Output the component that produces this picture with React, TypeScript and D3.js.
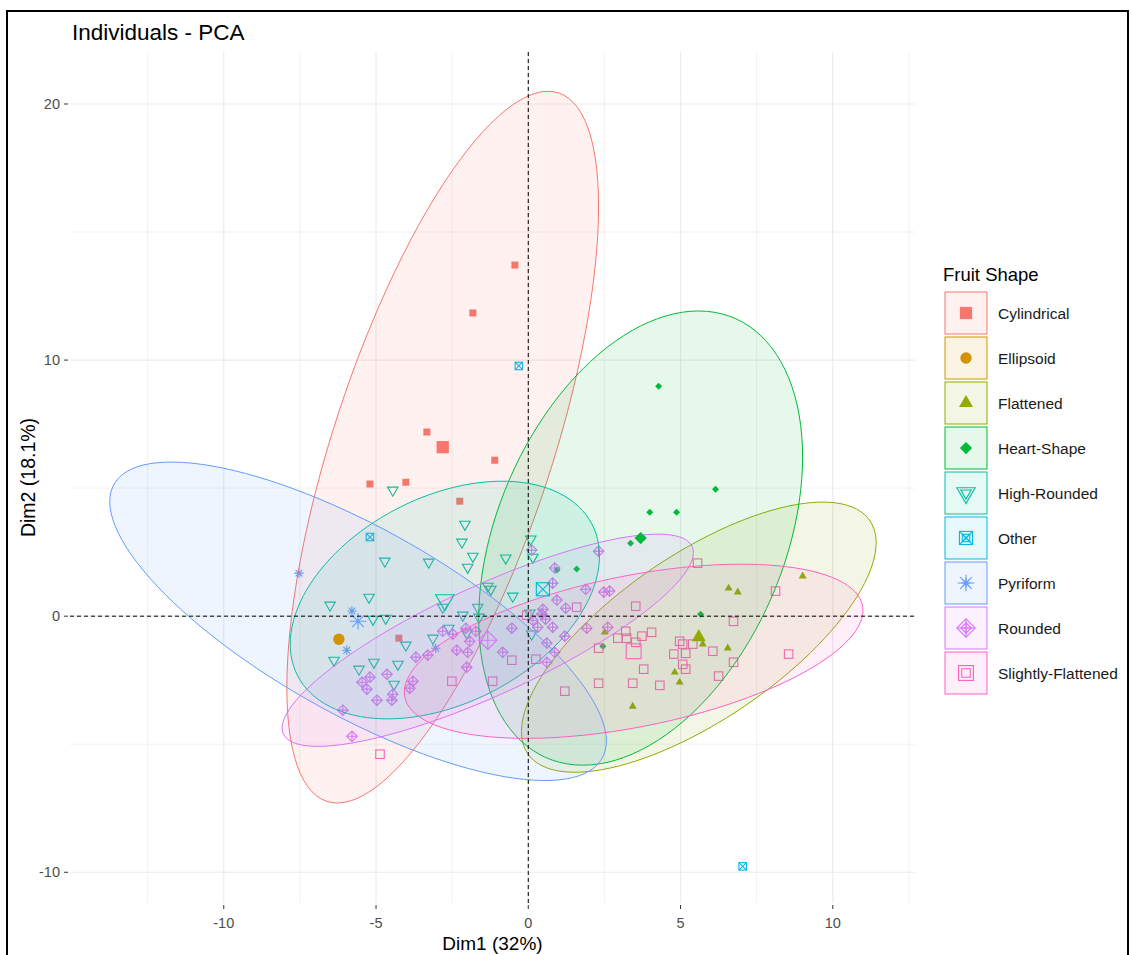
import React from 'react';
import * as d3 from 'd3';

type Pt = [number, number];

const groups = ['Cylindrical', 'Ellipsoid', 'Flattened', 'Heart-Shape', 'High-Rounded', 'Other', 'Pyriform', 'Rounded', 'Slightly-Flattened'];
const colours = ['#F8766D', '#D39200', '#93AA00', '#00BA38', '#00C19F', '#00B9E3', '#619CFF', '#DB72FB', '#FF61C3'];
const shapes = ['square', 'circle', 'triangle', 'diamond', 'triangleDown', 'squareCross', 'asterisk', 'diamondPlus', 'squareOpen'];

// individuals (Dim1, Dim2)
const cylindrical: Pt[] = [
  [-0.44, 13.71], [-1.82, 11.84], [-3.33, 7.19], [-1.1, 6.09], [-5.2, 5.16], [-4.02, 5.23], [-2.25, 4.49], [-4.25, -0.86],
];
const ellipsoid: Pt[] = [[-6.22, -0.9]];
const flattened: Pt[] = [
  [9.01, 1.56], [6.58, 1.09], [6.88, 0.94], [2.51, -0.63], [5.73, -1.09], [6.55, -1.25], [4.81, -2.19], [4.97, -2.58], [3.43, -3.52],
];
const heartShape: Pt[] = [
  [4.28, 8.98], [6.15, 4.96], [3.99, 4.06], [4.87, 4.06], [3.36, 2.85], [0.94, 1.8], [1.59, 1.84], [5.66, 0.08], [2.45, -1.17],
];
const highRounded: Pt[] = [
  [-4.45, 4.92], [-2.08, 3.59], [-2.18, 2.89], [-1.82, 2.34], [-1.99, 1.91], [-3.27, 2.11], [-4.71, 2.15], [-0.74, 2.27],
  [0.08, 3.01], [0.15, 2.3], [-1.33, 1.17], [-0.51, 0.78], [-5.23, 0.74], [-6.51, 0.43], [-2.81, 0.35], [-1.66, 0.35],
  [-5.1, -0.12], [-4.68, -0.08], [-2.15, 0.04], [-1.62, -0.04], [0.05, 0.12], [0.11, -0.7], [-2.61, -0.47], [-3.13, -0.86],
  [-4.02, -1.13], [-6.38, -1.72], [-5.56, -2.07], [-5.07, -1.8], [-4.28, -1.88], [-4.41, -2.66], [-1.23, 1.05], [-2.02, -0.66],
];
const other: Pt[] = [[-0.31, 9.77], [-5.2, 3.09], [7.04, -9.77]];
const pyriform: Pt[] = [[-7.53, 1.68], [-5.79, 0.2], [-5.96, -1.33], [-3.04, -1.25]];
const rounded: Pt[] = [
  [0.11, 2.58], [0.87, 1.88], [2.31, 2.54], [0.8, 1.29], [1.89, 1.05], [2.48, 0.94], [2.67, 0.98], [0.94, 0.63],
  [1.23, 0.31], [0.48, 0.27], [0.44, 0.08], [0.15, -0.16], [0.31, -0.43], [0.8, -0.43], [1.2, -0.78], [1.92, -0.47],
  [2.61, -0.43], [-0.54, -0.47], [-0.84, -1.41], [0.61, -1.05], [0.87, -1.41], [0.61, -1.8], [-1.72, -0.59], [-2.05, -0.47],
  [-2.48, -0.7], [-2.81, -0.59], [-1.92, -0.98], [-1.99, -1.41], [-2.35, -1.33], [-3.3, -1.52], [-3.69, -1.6], [-2.02, -1.99],
  [-4.64, -2.27], [-5.2, -2.38], [-5.46, -2.58], [-5.3, -2.85], [-3.79, -2.54], [-3.89, -2.81], [-4.45, -3.05], [-4.48, -3.28],
  [-4.97, -3.28], [-6.09, -3.67], [-5.79, -4.69], [0.57, -0.12],
];
const slightlyFlattened: Pt[] = [
  [5.56, 2.07], [8.12, 0.98], [1.59, 0.35], [3.53, 0.39], [6.74, -0.2], [3.2, -0.59], [4.05, -0.63], [2.94, -0.86],
  [3.73, -0.78], [3.23, -0.86], [3.53, -1.02], [2.31, -1.25], [4.97, -0.98], [5.07, -1.09], [5.4, -1.09], [6.06, -1.37],
  [4.78, -1.48], [5.17, -1.45], [8.55, -1.48], [6.74, -1.8], [5.07, -1.88], [5.17, -2.07], [3.79, -2.07], [6.25, -2.34],
  [2.31, -2.62], [3.43, -2.62], [4.32, -2.7], [1.2, -2.93], [0.25, -1.68], [-0.54, -1.72], [-2.51, -2.54], [-1.17, -2.54],
  [-0.05, 0.04], [-4.87, -5.39],
];
const members = [cylindrical, ellipsoid, flattened, heartShape, highRounded, other, pyriform, rounded, slightlyFlattened];

// group centres (large symbols)
const centres: Pt[] = [
  [-2.81, 6.6], [-6.22, -0.9], [5.6, -0.82], [3.69, 3.05], [-2.74, 0.63], [0.48, 1.05], [-5.59, -0.2], [-1.33, -0.94], [3.46, -1.37],
];

const xTicks = [-10, -5, 0, 5, 10];
const xMinor = [-12.5, -7.5, -2.5, 2.5, 7.5, 12.5];
const yTicks = [-10, 0, 10, 20];
const yMinor = [-5, 5, 15];

const W = 1131;
const H = 955;
const left = 70, right = 915, top = 52, bottom = 903;

const x = d3.scaleLinear().domain([-15.05, 12.7]).range([left, right]);
const y = d3.scaleLinear().domain([-11.2, 22.03]).range([bottom, top]);

const font = "'Liberation Sans', Arial, sans-serif";

const smallW: Record<string, number> = {
  square: 7, circle: 6.5, triangle: 8, diamond: 7, triangleDown: 10.5, squareCross: 7.5, asterisk: 9.5, diamondPlus: 10.5, squareOpen: 8.5,
};
const bigFactor = 1.75;

function Glyph({ shape, cx, cy, w, colour }: { shape: string; cx: number; cy: number; w: number; colour: string }) {
  const h = w / 2;
  const sw = 1.1;
  switch (shape) {
    case 'square':
      return <rect x={cx - h} y={cy - h} width={w} height={w} fill={colour} />;
    case 'circle':
      return <circle cx={cx} cy={cy} r={h} fill={colour} />;
    case 'triangle': {
      const t = w * 0.866;
      return <path d={`M${cx},${cy - (t * 2) / 3}L${cx + h},${cy + t / 3}L${cx - h},${cy + t / 3}Z`} fill={colour} />;
    }
    case 'diamond':
      return <path d={`M${cx},${cy - h}L${cx + h},${cy}L${cx},${cy + h}L${cx - h},${cy}Z`} fill={colour} />;
    case 'triangleDown': {
      const t = w * 0.866;
      return (
        <path d={`M${cx - h},${cy - t / 3}L${cx + h},${cy - t / 3}L${cx},${cy + (t * 2) / 3}Z`}
          fill="none" stroke={colour} strokeWidth={sw} />
      );
    }
    case 'squareCross':
      return (
        <g fill="none" stroke={colour} strokeWidth={sw}>
          <rect x={cx - h} y={cy - h} width={w} height={w} />
          <path d={`M${cx - h},${cy - h}L${cx + h},${cy + h}M${cx + h},${cy - h}L${cx - h},${cy + h}`} />
        </g>
      );
    case 'asterisk': {
      const d = h * 0.7071;
      return (
        <path
          d={`M${cx - h},${cy}L${cx + h},${cy}M${cx},${cy - h}L${cx},${cy + h}M${cx - d},${cy - d}L${cx + d},${cy + d}M${cx + d},${cy - d}L${cx - d},${cy + d}`}
          fill="none" stroke={colour} strokeWidth={sw} />
      );
    }
    case 'diamondPlus':
      return (
        <g fill="none" stroke={colour} strokeWidth={sw}>
          <path d={`M${cx},${cy - h}L${cx + h},${cy}L${cx},${cy + h}L${cx - h},${cy}Z`} />
          <path d={`M${cx - h},${cy}L${cx + h},${cy}M${cx},${cy - h}L${cx},${cy + h}`} />
        </g>
      );
    default:
      return <rect x={cx - h} y={cy - h} width={w} height={w} fill="none" stroke={colour} strokeWidth={sw} />;
  }
}

// normal-theory 95% ellipse, as stat_ellipse(type = "norm")
function ellipsePath(pts: Pt[], centre: Pt): string | null {
  const n = pts.length;
  if (n < 4) return null;
  const mx = d3.mean(pts, (p) => p[0]) as number;
  const my = d3.mean(pts, (p) => p[1]) as number;
  let sxx = 0, syy = 0, sxy = 0;
  pts.forEach(([a, b]) => {
    sxx += (a - mx) ** 2;
    syy += (b - my) ** 2;
    sxy += (a - mx) * (b - my);
  });
  sxx /= n - 1; syy /= n - 1; sxy /= n - 1;
  const df = n - 1;
  const F = (df / 2) * (Math.pow(0.05, -2 / df) - 1);
  const r = Math.sqrt(2 * F);
  const a = Math.sqrt(sxx);
  const b = sxy / a;
  const c = Math.sqrt(Math.max(syy - b * b, 0));
  const ring: Pt[] = d3.range(121).map((i) => {
    const t = (i / 120) * 2 * Math.PI;
    return [centre[0] + r * a * Math.cos(t), centre[1] + r * (b * Math.cos(t) + c * Math.sin(t))];
  });
  return (d3.line<Pt>().x((p) => x(p[0])).y((p) => y(p[1]))(ring) as string) + 'Z';
}

export default function App() {
  const legendX = 945;
  const legendTop = 292;
  const step = 45;

  return (
    <svg width={W} height={H} style={{ position: 'absolute', left: 0, top: 0, background: '#fff' }} fontFamily={font}>
      <rect x={0} y={0} width={W} height={H} fill="#fff" />

      {/* grid */}
      <g stroke="#EBEBEB">
        {xMinor.map((v) => <line key={'xm' + v} x1={x(v)} x2={x(v)} y1={top} y2={bottom} strokeWidth={0.7} />)}
        {yMinor.map((v) => <line key={'ym' + v} y1={y(v)} y2={y(v)} x1={left} x2={right} strokeWidth={0.7} />)}
        {xTicks.map((v) => <line key={'xM' + v} x1={x(v)} x2={x(v)} y1={top} y2={bottom} strokeWidth={1.2} />)}
        {yTicks.map((v) => <line key={'yM' + v} y1={y(v)} y2={y(v)} x1={left} x2={right} strokeWidth={1.2} />)}
      </g>

      {/* individuals */}
      {members.map((pts, g) =>
        pts.map((p, i) => (
          <Glyph key={g + '-' + i} shape={shapes[g]} cx={x(p[0])} cy={y(p[1])} w={smallW[shapes[g]]} colour={colours[g]} />
        ))
      )}

      {/* ellipses */}
      {members.map((pts, g) => {
        const d = ellipsePath(pts, centres[g]);
        return d ? (
          <path key={'e' + g} d={d} fill={colours[g]} fillOpacity={0.1} stroke={colours[g]} strokeWidth={1} />
        ) : null;
      })}

      {/* group centres */}
      {centres.map((p, g) => (
        <Glyph key={'c' + g} shape={shapes[g]} cx={x(p[0])} cy={y(p[1])} w={smallW[shapes[g]] * bigFactor} colour={colours[g]} />
      ))}

      {/* reference lines */}
      <line x1={left} x2={right} y1={y(0)} y2={y(0)} stroke="#000" strokeDasharray="4,3" strokeWidth={1} />
      <line x1={x(0)} x2={x(0)} y1={top} y2={bottom} stroke="#000" strokeDasharray="4,3" strokeWidth={1} />

      {/* axes */}
      <g fill="#4D4D4D" fontSize={14.5}>
        {xTicks.map((v) => (
          <g key={'xt' + v}>
            <line x1={x(v)} x2={x(v)} y1={bottom + 2} y2={bottom + 6} stroke="#333" />
            <text x={x(v)} y={928} textAnchor="middle">{v}</text>
          </g>
        ))}
        {yTicks.map((v) => (
          <g key={'yt' + v}>
            <line x1={left - 6} x2={left - 2} y1={y(v)} y2={y(v)} stroke="#333" />
            <text x={left - 10} y={y(v) + 5} textAnchor="end">{v}</text>
          </g>
        ))}
      </g>
      <text x={(left + right) / 2} y={950} textAnchor="middle" fontSize={19} fill="#000">Dim1 (32%)</text>
      <text transform={`translate(35,${(top + bottom) / 2}) rotate(-90)`} textAnchor="middle" fontSize={19.5} fill="#000">Dim2 (18.1%)</text>

      <text x={72} y={40} fontSize={22.5} fill="#000">Individuals - PCA</text>

      {/* legend */}
      <text x={943} y={281} fontSize={18.5} fill="#000">Fruit Shape</text>
      {groups.map((name, g) => {
        const yy = legendTop + g * step;
        const cx = legendX + 21;
        const cy = yy + 21;
        return (
          <g key={'l' + g}>
            <rect x={legendX} y={yy} width={42} height={42} fill={colours[g]} fillOpacity={0.1} stroke={colours[g]} strokeWidth={1} />
            <Glyph shape={shapes[g]} cx={cx} cy={cy} w={smallW[shapes[g]]} colour={colours[g]} />
            <Glyph shape={shapes[g]} cx={cx} cy={cy} w={smallW[shapes[g]] * bigFactor} colour={colours[g]} />
            <text x={998} y={cy + 6} fontSize={15.5} fill="#1a1a1a">{name}</text>
          </g>
        );
      })}

      {/* outer frame */}
      <rect x={7} y={11} width={1121} height={1000} fill="none" stroke="#000" strokeWidth={2} />
    </svg>
  );
}
